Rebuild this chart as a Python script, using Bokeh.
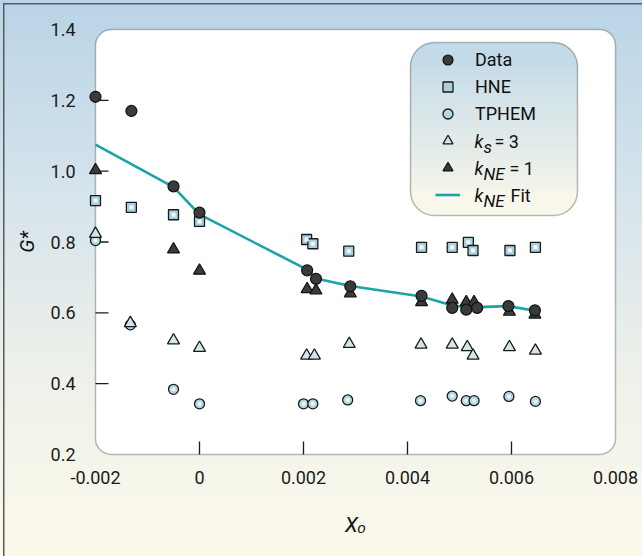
import numpy as np
from bokeh.plotting import figure
from bokeh.models import (Range1d, FixedTicker, PrintfTickFormatter, BoxAnnotation,
                          Label, Legend, LegendItem)
from bokeh.embed import file_html
from bokeh.resources import INLINE

# ---------------- data ----------------
data_x = [-0.002, -0.00131, -0.0005, 0.0, 0.00207, 0.00224, 0.0029, 0.00427, 0.00486, 0.00513, 0.00534, 0.00594, 0.00645]
data_y = [1.21, 1.17, 0.957, 0.883, 0.720, 0.696, 0.675, 0.648, 0.614, 0.609, 0.614, 0.619, 0.607]

hne_x = [-0.002, -0.00131, -0.0005, 0.0, 0.00206, 0.00218, 0.00287, 0.00427, 0.00486, 0.00517, 0.00526, 0.00597, 0.00646]
hne_y = [0.917, 0.898, 0.877, 0.858, 0.807, 0.795, 0.774, 0.785, 0.785, 0.799, 0.776, 0.776, 0.785]

tphem_x = [-0.002, -0.00133, -0.0005, 0.0, 0.0020, 0.00218, 0.00285, 0.00425, 0.00486, 0.00513, 0.00528, 0.00595, 0.00646]
tphem_y = [0.804, 0.566, 0.384, 0.343, 0.343, 0.343, 0.354, 0.352, 0.365, 0.352, 0.352, 0.364, 0.350]

ks_x = [-0.002, -0.00133, -0.0005, 0.0, 0.00206, 0.00221, 0.00288, 0.00426, 0.00486, 0.00515, 0.00526, 0.00596, 0.00646]
ks_y = [0.823, 0.571, 0.522, 0.501, 0.479, 0.479, 0.512, 0.510, 0.510, 0.503, 0.479, 0.503, 0.493]

kne_x = [-0.002, -0.0005, 0.0, 0.00207, 0.00224, 0.0029, 0.00427, 0.00486, 0.00513, 0.00528, 0.00596, 0.00645]
kne_y = [1.003, 0.779, 0.719, 0.667, 0.663, 0.655, 0.630, 0.637, 0.630, 0.630, 0.603, 0.595]

fit_x = [-0.002, -0.00131, -0.0005, 0.0, 0.00207, 0.00224, 0.0029, 0.00427, 0.00486, 0.00513, 0.00534, 0.00594, 0.00645]
fit_y = [1.075, 1.020, 0.955, 0.878, 0.722, 0.697, 0.676, 0.646, 0.621, 0.616, 0.616, 0.619, 0.606]

x_ticks = [-0.002, 0.0, 0.002, 0.004, 0.006, 0.008]
y_ticks = [0.2, 0.4, 0.6, 0.8, 1.0, 1.2, 1.4]
x_inner_ticks = [0.0, 0.002, 0.004, 0.006]
y_inner_ticks = [0.4, 0.6, 0.8, 1.0, 1.2]

# ---------------- layout constants ----------------
X0, X1 = -0.002, 0.008
Y0, Y1 = 0.2, 1.4
BOX_L, BOX_R, BOX_T, BOX_B = 95, 615, 29, 454      # pixel box of the axes
PX_X = (BOX_R - BOX_L) / (X1 - X0)
PX_Y = (BOX_B - BOX_T) / (Y1 - Y0)
PAD = 8

def dx(px):
    return X0 + (px - BOX_L) / PX_X

def dy(py):
    return Y0 + (BOX_B - py) / PX_Y

FONT = "Roboto, 'Liberation Sans', sans-serif"
INK = "#1a1a1a"

p = figure(width=642, height=556, output_backend="svg", toolbar_location=None,
           x_range=Range1d(X0 - PAD / PX_X, X1 + PAD / PX_X),
           y_range=Range1d(Y0 - PAD / PX_Y, Y1 + PAD / PX_Y),
           min_border_left=BOX_L - PAD, min_border_right=642 - BOX_R - PAD,
           min_border_top=BOX_T - PAD, min_border_bottom=556 - BOX_B - PAD)

p.background_fill_alpha = 0
p.border_fill_alpha = 0
p.outline_line_color = None
p.grid.visible = False
p.styles = {
    "background": ("linear-gradient(#5a5a5a, #5a5a5a) 3px 3px / 1.5px 100% no-repeat, "
                   "linear-gradient(#5a5a5a, #5a5a5a) 3px 3px / 100% 1.5px no-repeat, "
                   "linear-gradient(to bottom, #b9d4e6 0%, #d6e4ec 35%, #eef1ea 68%, #fcf9ea 100%)")
}

# axes: labels only
for ax in (p.xaxis[0], p.yaxis[0]):
    ax.axis_line_color = None
    ax.major_tick_line_color = None
    ax.minor_tick_line_color = None
    ax.major_label_text_font = FONT
    ax.major_label_text_font_size = "18px"
    ax.major_label_text_color = INK
    ax.axis_label_text_font = FONT
    ax.axis_label_text_font_style = "italic"
    ax.axis_label_text_font_size = "21px"
    ax.axis_label_text_color = "#111111"
p.xaxis.ticker = FixedTicker(ticks=x_ticks)
p.xaxis.formatter = PrintfTickFormatter(format="%g")
p.xaxis.major_label_standoff = 2
p.xaxis.axis_label = "X\u2092"
p.xaxis.axis_label_standoff = 26
p.yaxis.ticker = FixedTicker(ticks=y_ticks)
p.yaxis.formatter = PrintfTickFormatter(format="%.1f")
p.yaxis.major_label_standoff = 6
p.yaxis.axis_label = "G*"
p.yaxis.axis_label_text_font_size = "20px"
p.yaxis.axis_label_standoff = 9

# white rounded plotting box
p.add_layout(BoxAnnotation(left=X0, right=X1, bottom=Y0, top=Y1, fill_color="white",
                           fill_alpha=1, line_color=INK, line_width=1.5,
                           border_radius=16, level="underlay"))

# inward ticks
TICK = 13
p.segment(x0=x_inner_ticks, y0=[Y0] * len(x_inner_ticks), x1=x_inner_ticks,
          y1=[Y0 + TICK / PX_Y] * len(x_inner_ticks), line_color=INK, line_width=1.3)
p.segment(x0=[X0] * len(y_inner_ticks), y0=y_inner_ticks, x1=[X0 + TICK / PX_X] * len(y_inner_ticks),
          y1=y_inner_ticks, line_color=INK, line_width=1.3)

# series
r_fit = p.line(fit_x, fit_y, line_color="#1aa3a8", line_width=2.6)
r_hne = p.scatter(hne_x, hne_y, marker="square", size=10, fill_color="#a8cfde",
                  line_color=INK, line_width=1.3)
p.scatter(hne_x, hne_y, marker="square", size=4, fill_color="#f2f9fb", line_color=None)
r_tph = p.scatter(tphem_x, tphem_y, marker="circle", size=10, fill_color="#b5d8e3",
                  line_color=INK, line_width=1.3)
p.scatter(tphem_x, tphem_y, marker="circle", size=4, fill_color="#eef7fa", line_color=None)
r_ks = p.scatter(ks_x, ks_y, marker="triangle", size=12, fill_color="#d2e6ec",
                 line_color=INK, line_width=1.3)
r_kne = p.scatter(kne_x, kne_y, marker="triangle", size=12, fill_color="#3b3b3b",
                  line_color="#111111", line_width=1.2)
r_data = p.scatter(data_x, data_y, marker="circle", size=11, fill_color="#3b3b3b",
                   line_color="#111111", line_width=1.2)

# legend box with vertical gradient
LL, LR, LT, LB, RAD = 410, 577, 42, 215, 24
c_top = np.array([0xc0, 0xd8, 0xe8])
c_bot = np.array([0xfb, 0xf9, 0xea])

def col(py):
    t = (py - LT) / (LB - LT)
    c = (c_top + (c_bot - c_top) * t).round().astype(int)
    return "#%02x%02x%02x" % tuple(c)

p.add_layout(BoxAnnotation(left=dx(LL), right=dx(LR), top=dy(LT), bottom=dy(LT + RAD + 2),
                           fill_color=col(LT + 10), fill_alpha=1, line_color=None,
                           border_radius=(RAD, RAD, 0, 0)))
y = LT + RAD
while y < LB - RAD:
    p.add_layout(BoxAnnotation(left=dx(LL), right=dx(LR), top=dy(y), bottom=dy(min(y + 5, LB - RAD + 1)),
                               fill_color=col(y + 2), fill_alpha=1, line_color=None))
    y += 4
p.add_layout(BoxAnnotation(left=dx(LL), right=dx(LR), top=dy(LB - RAD), bottom=dy(LB),
                           fill_color=col(LB - 10), fill_alpha=1, line_color=None,
                           border_radius=(0, 0, RAD, RAD)))
p.add_layout(BoxAnnotation(left=dx(LL), right=dx(LR), top=dy(LT), bottom=dy(LB),
                           fill_alpha=0, line_color=INK, line_width=1.5, border_radius=RAD))

legend = Legend(items=[LegendItem(label="Data", renderers=[r_data]),
                       LegendItem(label="HNE", renderers=[r_hne]),
                       LegendItem(label="TPHEM", renderers=[r_tph]),
                       LegendItem(label=" ", renderers=[r_ks]),
                       LegendItem(label=" ", renderers=[r_kne]),
                       LegendItem(label=" ", renderers=[r_fit])],
                location=(435 - (BOX_L - PAD), (BOX_B + PAD) - 207),
                glyph_width=25, glyph_height=25, label_height=25, label_width=10,
                spacing=2, padding=0, margin=0, label_standoff=15,
                background_fill_alpha=0, border_line_alpha=0,
                label_text_font=FONT, label_text_font_size="18px",
                label_text_color="#111111", label_text_baseline="middle")
p.add_layout(legend)

def lab(px, py, text, size="18px", style="normal", align="left"):
    p.add_layout(Label(x=dx(px), y=dy(py), text=text, text_font=FONT, text_font_size=size,
                       text_font_style=style, text_align=align, text_baseline="middle",
                       text_color="#111111"))

# legend rich labels
lab(474, 141, "k", style="italic")
lab(483, 146, "s", size="17px", style="italic")
lab(494, 141, "= 3")
lab(474, 168, "k", style="italic")
lab(483, 173, "NE", size="17px", style="italic")
lab(509, 168, "= 1")
lab(474, 195, "k", style="italic")
lab(483, 200, "NE", size="17px", style="italic")
lab(510, 195, "Fit")

open("out.html", "w").write(file_html(p, INLINE))
